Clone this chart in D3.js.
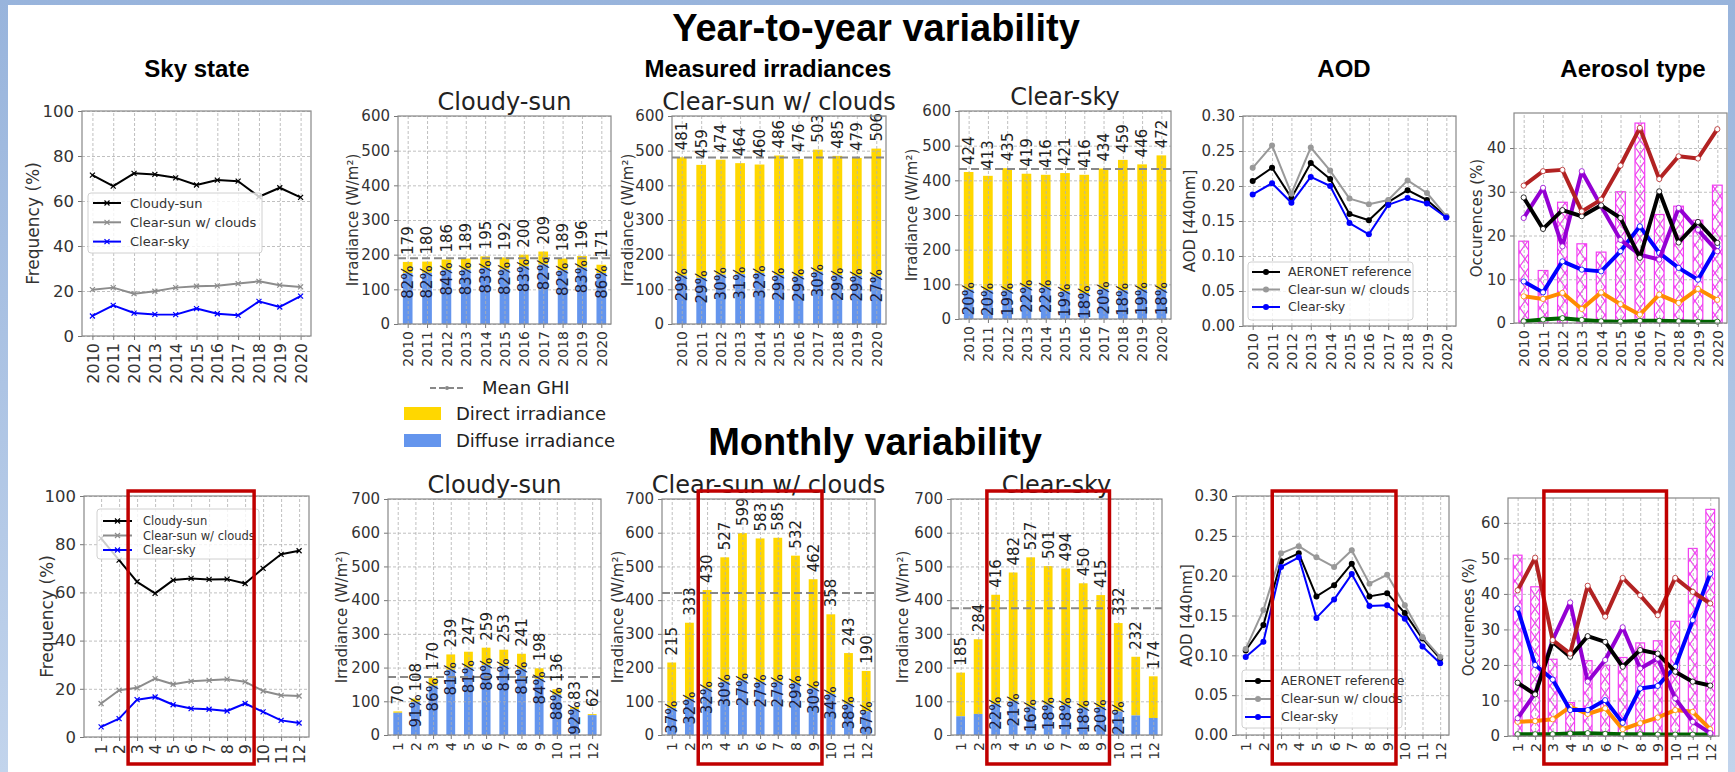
<!DOCTYPE html>
<html>
<head>
<meta charset="utf-8">
<script src="https://cdn.jsdelivr.net/npm/d3@7"></script>
<style>
  body { margin: 0; background: #fff; }
  svg { display: block; }
</style>
</head>
<body>
<div id="chart"></div>
<script>
// ---- categories
const years = [2010, 2011, 2012, 2013, 2014, 2015, 2016, 2017, 2018, 2019, 2020];
const months = [1, 2, 3, 4, 5, 6, 7, 8, 9, 10, 11, 12];

// ---- sky state frequency (%)
const skyYearCloudy   = [71.5, 66.6, 72.3, 71.8, 70.3, 67.1, 69.3, 68.8, 61.9, 65.9, 61.6];
const skyYearClearSun = [20.6, 21.5, 18.8, 19.9, 21.5, 22.1, 22.3, 23.3, 24.3, 22.6, 21.8];
const skyYearClearSky = [8.9, 13.6, 10.2, 9.6, 9.5, 12.2, 9.9, 9.2, 15.4, 12.9, 17.7];
const skyMonthCloudy   = [82.4, 73.4, 64.4, 59.6, 65.1, 65.8, 65.4, 65.5, 63.7, 70.0, 75.8, 77.3];
const skyMonthClearSun = [13.9, 19.4, 20.4, 24.2, 21.9, 23.1, 23.5, 24.0, 22.9, 19.1, 17.3, 17.0];
const skyMonthClearSky = [4.2, 7.6, 15.5, 16.6, 13.4, 11.8, 11.5, 10.8, 13.9, 10.4, 6.9, 5.8];

// ---- measured irradiances: total GHI (W/m²) and diffuse share (%)
const cloudyYearTotal   = [179, 180, 186, 189, 195, 192, 200, 209, 189, 196, 171];
const cloudyYearPct     = [82, 82, 84, 83, 83, 82, 83, 82, 82, 83, 86];
const clearSunYearTotal = [481, 459, 474, 464, 460, 486, 476, 503, 485, 479, 506];
const clearSunYearPct   = [29, 29, 30, 31, 32, 29, 29, 30, 29, 29, 27];
const clearSkyYearTotal = [424, 413, 435, 419, 416, 421, 416, 434, 459, 446, 472];
const clearSkyYearPct   = [20, 20, 19, 22, 22, 19, 18, 20, 18, 19, 18];
const yearMeanGHI = [190, 480, 433];   // cloudy-sun, clear-sun w/ clouds, clear-sky

const cloudyMonthTotal   = [70, 108, 170, 239, 247, 259, 253, 241, 198, 136, 83, 62];
const cloudyMonthPct     = [94, 91, 86, 81, 81, 80, 81, 81, 84, 88, 92, 95];
const cloudyMonthShowPct = [0, 1, 1, 1, 1, 1, 1, 1, 1, 1, 1, 0];
const clearSunMonthTotal = [215, 333, 430, 527, 599, 583, 585, 532, 462, 358, 243, 190];
const clearSunMonthPct   = [37, 32, 32, 30, 27, 27, 27, 29, 30, 34, 38, 37];
const clearSunMonthShowPct = [1, 1, 1, 1, 1, 1, 1, 1, 1, 1, 1, 1];
const clearSkyMonthTotal = [185, 284, 416, 482, 527, 501, 494, 450, 415, 332, 232, 174];
const clearSkyMonthPct   = [30, 22, 22, 21, 16, 18, 18, 18, 20, 21, 25, 29];
const clearSkyMonthShowPct = [0, 0, 1, 1, 1, 1, 1, 1, 1, 1, 0, 0];
const monthMeanGHI = [172, 421, 376];

// ---- AOD at 440 nm
const aodYearRef      = [0.207, 0.226, 0.183, 0.233, 0.210, 0.160, 0.151, 0.177, 0.194, 0.180, 0.156];
const aodYearClearSun = [0.226, 0.258, 0.189, 0.255, 0.222, 0.182, 0.174, 0.180, 0.208, 0.190, 0.157];
const aodYearClearSky = [0.188, 0.204, 0.176, 0.213, 0.200, 0.147, 0.131, 0.173, 0.183, 0.175, 0.155];
const aodMonthRef      = [0.106, 0.138, 0.218, 0.228, 0.174, 0.188, 0.215, 0.174, 0.178, 0.153, 0.121, 0.096];
const aodMonthClearSun = [0.108, 0.157, 0.228, 0.237, 0.223, 0.211, 0.232, 0.190, 0.201, 0.163, 0.123, 0.098];
const aodMonthClearSky = [0.098, 0.117, 0.211, 0.223, 0.147, 0.170, 0.202, 0.162, 0.163, 0.146, 0.111, 0.090];

// ---- aerosol type occurrences (%)
const aerYearBars   = [18.7, 12.0, 27.6, 18.1, 16.2, 30.0, 45.7, 24.8, 26.7, 23.5, 31.5];
const aerYearBrown  = [31.4, 34.7, 35.0, 25.5, 28.2, 36.0, 44.6, 32.9, 38.1, 37.6, 44.3];
const aerYearPurple = [24.0, 30.9, 17.5, 34.7, 26.7, 19.0, 15.6, 14.5, 26.3, 21.3, 16.4];
const aerYearBlack  = [28.7, 21.5, 25.8, 24.4, 26.9, 24.0, 14.9, 30.1, 18.4, 23.1, 18.3];
const aerYearBlue   = [9.5, 7.0, 14.1, 12.2, 11.8, 16.4, 22.1, 16.0, 12.6, 9.9, 17.5];
const aerYearOrange = [6.1, 5.5, 6.9, 3.2, 7.0, 4.3, 1.9, 6.5, 4.6, 7.8, 5.3];
const aerYearGreen  = [0.4, 0.8, 1.1, 0.7, 0.4, 0.3, 0.5, 0.5, 0.4, 0.3, 0.3];
const aerMonthBars   = [50.9, 42.0, 21.6, 9.4, 21.2, 19.9, 22.1, 26.2, 26.8, 32.3, 52.8, 63.8];
const aerMonthBrown  = [41.0, 50.2, 27.0, 23.2, 42.3, 33.6, 44.5, 39.6, 34.0, 44.5, 40.6, 37.3];
const aerMonthPurple = [5.0, 12.0, 27.0, 37.6, 15.3, 21.4, 30.6, 19.0, 21.8, 10.6, 4.0, 0.8];
const aerMonthBlack  = [15.0, 11.7, 26.5, 22.3, 28.1, 26.5, 19.5, 24.2, 23.2, 18.1, 15.3, 14.2];
const aerMonthBlue   = [35.9, 20.0, 15.9, 7.3, 7.3, 10.1, 3.7, 13.4, 14.1, 19.5, 32.6, 45.7];
const aerMonthOrange = [4.0, 4.2, 4.7, 8.2, 6.2, 7.8, 1.9, 3.6, 5.2, 7.3, 6.8, 1.9];
const aerMonthGreen  = [0.5, 0.5, 0.5, 0.7, 0.8, 0.6, 0.5, 0.5, 0.4, 0.4, 0.4, 0.4];

const skyNames = ["Cloudy-sun", "Clear-sun w/ clouds", "Clear-sky"];
const aodNames = ["AERONET reference", "Clear-sun w/ clouds", "Clear-sky"];

// ---------------------------------------------------------------
const W = 1735, H = 772;
const FONT = "DejaVu Sans";
const TITLE_FONT = "Liberation Sans";

const svg = d3.select("#chart").append("svg")
    .attr("width", W)
    .attr("height", H)
    .attr("font-family", FONT);

const defs = svg.append("defs");
const sky = defs.append("linearGradient").attr("id", "sky")
    .attr("x1", 0).attr("y1", 0).attr("x2", 0).attr("y2", 1);
sky.append("stop").attr("offset", "0%").attr("stop-color", "#98b4dc");
sky.append("stop").attr("offset", "100%").attr("stop-color", "#c2d4ec");

const hatch = defs.append("pattern").attr("id", "hatch")
    .attr("patternUnits", "userSpaceOnUse").attr("width", 10).attr("height", 14);
hatch.append("rect").attr("width", 10).attr("height", 14).attr("fill", "#fff");
hatch.append("path").attr("d", "M0,0L10,14M10,0L0,14")
    .attr("stroke", "#f23cf2").attr("stroke-width", 1.1);

svg.append("rect").attr("width", W).attr("height", H).attr("fill", "url(#sky)");
svg.append("rect").attr("x", 8).attr("y", 5).attr("width", 1720).attr("height", H - 5).attr("fill", "#fff");

// big headings
function heading(text, x, y, size) {
  svg.append("text").attr("x", x).attr("y", y)
      .attr("text-anchor", "middle")
      .attr("font-family", TITLE_FONT).attr("font-weight", "bold")
      .attr("font-size", size).attr("fill", "#000")
      .text(text);
}
heading("Year-to-year variability", 876, 41, 38);
heading("Monthly variability", 875, 455, 38);
heading("Sky state", 197, 77, 24);
heading("Measured irradiances", 768, 77, 24);
heading("AOD", 1344, 77, 24);
heading("Aerosol type", 1633, 77, 24);

// ---------------------------------------------------------------
// one matplotlib-like axes box
function makeAxes(box, cats, xDomain, yDomain, yTicks, yFmt, yLabel, yLabelX, fs) {
  const x = d3.scaleLinear().domain(xDomain).range([box.left, box.right]);
  const y = d3.scaleLinear().domain(yDomain).range([box.bottom, box.top]);
  const g = svg.append("g");
  const below = g.append("g");
  const grid = g.append("g");
  const above = g.append("g");

  grid.append("g")
      .attr("transform", `translate(${box.left},0)`)
      .call(d3.axisLeft(y).tickValues(yTicks).tickSize(-(box.right - box.left)).tickFormat(""))
      .call(a => a.select(".domain").remove())
      .selectAll("line")
        .attr("stroke", "#b0b0b0").attr("stroke-width", 0.8).attr("stroke-dasharray", "3,2");
  grid.append("g")
      .attr("transform", `translate(0,${box.bottom})`)
      .call(d3.axisBottom(x).tickValues(cats).tickSize(-(box.bottom - box.top)).tickFormat(""))
      .call(a => a.select(".domain").remove())
      .selectAll("line")
        .attr("stroke", "#b0b0b0").attr("stroke-width", 0.8).attr("stroke-dasharray", "3,2");

  const ay = g.append("g")
      .attr("transform", `translate(${box.left},0)`)
      .call(d3.axisLeft(y).tickValues(yTicks).tickFormat(yFmt).tickSize(4).tickPadding(4))
      .attr("font-family", FONT).attr("font-size", fs.y);
  ay.select(".domain").remove();
  ay.selectAll("text").attr("fill", "#333");
  ay.selectAll("line").attr("stroke", "#777");

  const ax = g.append("g")
      .attr("transform", `translate(0,${box.bottom})`)
      .call(d3.axisBottom(x).tickValues(cats).tickFormat(d3.format("d")).tickSize(4))
      .attr("font-family", FONT).attr("font-size", fs.x);
  ax.select(".domain").remove();
  ax.selectAll("line").attr("stroke", "#777");
  ax.selectAll("text")
      .attr("fill", "#333")
      .attr("transform", "rotate(-90)")
      .attr("text-anchor", "end")
      .attr("x", -7).attr("y", 0).attr("dy", "0.35em");

  g.append("text")
      .attr("transform", `translate(${yLabelX},${(box.top + box.bottom) / 2}) rotate(-90)`)
      .attr("text-anchor", "middle").attr("dy", "0.35em")
      .attr("font-size", fs.label).attr("fill", "#333")
      .text(yLabel);

  g.append("rect")
      .attr("x", box.left).attr("y", box.top)
      .attr("width", box.right - box.left).attr("height", box.bottom - box.top)
      .attr("fill", "none").attr("stroke", "#888").attr("stroke-width", 1.2);

  return { x, y, below, above, box };
}

function marker(sel, kind, color) {
  if (kind === "x") {
    sel.append("path").attr("d", "M-2.5,-2.5L2.5,2.5M-2.5,2.5L2.5,-2.5")
        .attr("stroke", color).attr("stroke-width", 1.2);
  } else if (kind === "dot") {
    sel.append("circle").attr("r", 3).attr("fill", color);
  } else if (kind === "ring") {
    sel.append("circle").attr("r", 2.6).attr("fill", "#fff").attr("stroke", color).attr("stroke-width", 0.8);
  }
}

function drawLine(ax, cats, values, color, width, kind) {
  const line = d3.line().x((d, i) => ax.x(cats[i])).y(d => ax.y(d));
  ax.above.append("path").datum(values)
      .attr("d", line)
      .attr("fill", "none").attr("stroke", color)
      .attr("stroke-width", width).attr("stroke-linejoin", "round");
  ax.above.append("g").selectAll("g").data(values).join("g")
      .attr("transform", (d, i) => `translate(${ax.x(cats[i])},${ax.y(d)})`)
      .each(function() { marker(d3.select(this), kind, color); });
}

function legend(layer, spec, items) {
  layer.append("rect")
      .attr("x", spec.x).attr("y", spec.y).attr("width", spec.w).attr("height", spec.h).attr("rx", 3)
      .attr("fill", "#fff").attr("fill-opacity", 0.8).attr("stroke", "#d0d0d0");
  items.forEach((it, i) => {
    const cy = spec.row0 + i * spec.step;
    layer.append("line")
        .attr("x1", spec.lx1).attr("x2", spec.lx2).attr("y1", cy).attr("y2", cy)
        .attr("stroke", it.color).attr("stroke-width", 2);
    marker(layer.append("g").attr("transform", `translate(${(spec.lx1 + spec.lx2) / 2},${cy})`), it.kind, it.color);
    layer.append("text")
        .attr("x", spec.tx).attr("y", cy).attr("dy", "0.35em")
        .attr("font-size", spec.fs).attr("fill", "#333")
        .text(it.label);
  });
}

const skyFs = { y: 16.5, x: 16, label: 17 };
const barFs = { y: 15, x: 14, label: 15 };
const aodFs = { y: 15, x: 14.5, label: 15 };

// ---------------------------------------------------------------
function skyPanel(box, cats, xDomain, series, yLabelX, leg) {
  const ax = makeAxes(box, cats, xDomain, [0, 100], d3.range(0, 101, 20), d3.format("d"), "Frequency (%)", yLabelX, skyFs);
  const colors = ["#000", "#8c8c8c", "#0000ff"];
  series.forEach((s, k) => drawLine(ax, cats, s, colors[k], 2, "x"));
  legend(ax.above, leg, series.map((s, k) => ({ label: skyNames[k], color: colors[k], kind: "x" })));
  return ax;
}

function irrPanel(box, cats, xDomain, yMax, totals, pcts, showPct, mean, title, titleY, yLabelX) {
  const ax = makeAxes(box, cats, xDomain, [0, yMax], d3.range(0, yMax + 1, 100), d3.format("d"), "Irradiance (W/m²)", yLabelX, barFs);
  const bw = ax.x(cats[0] + 0.25) - ax.x(cats[0] - 0.25);
  const rows = cats.map((c, i) => ({ c, total: totals[i], diffuse: totals[i] * pcts[i] / 100, pct: pcts[i], show: showPct[i] }));

  ax.below.selectAll(".dir").data(rows).join("rect")
      .attr("x", d => ax.x(d.c) - bw / 2).attr("width", bw)
      .attr("y", d => ax.y(d.total)).attr("height", d => ax.y(d.diffuse) - ax.y(d.total))
      .attr("fill", "#ffd700");
  ax.below.selectAll(".dif").data(rows).join("rect")
      .attr("x", d => ax.x(d.c) - bw / 2).attr("width", bw)
      .attr("y", d => ax.y(d.diffuse)).attr("height", d => ax.y(0) - ax.y(d.diffuse))
      .attr("fill", "#6495ed");

  ax.above.append("line")
      .attr("x1", box.left).attr("x2", box.right)
      .attr("y1", ax.y(mean)).attr("y2", ax.y(mean))
      .attr("stroke", "#888").attr("stroke-width", 2).attr("stroke-dasharray", "8,4");

  ax.above.selectAll(".tot").data(rows).join("text")
      .attr("transform", d => `translate(${ax.x(d.c)},${ax.y(d.total) - 7}) rotate(-90)`)
      .attr("dy", "0.36em").attr("font-size", 15).attr("fill", "#222")
      .text(d => d.total);
  ax.above.selectAll(".pct").data(rows.filter(d => d.show)).join("text")
      .attr("transform", d => `translate(${ax.x(d.c)},${Math.min(ax.y(d.diffuse) + 9, ax.y(0) - 17)}) rotate(-90)`)
      .attr("text-anchor", "middle")
      .attr("dy", "0.36em").attr("font-size", 15).attr("fill", "#1c1c3a")
      .text(d => `${d.pct}%`);

  svg.append("text")
      .attr("x", (box.left + box.right) / 2).attr("y", titleY)
      .attr("text-anchor", "middle").attr("font-size", 24).attr("fill", "#222")
      .text(title);
  return ax;
}

function aodPanel(box, cats, xDomain, series, yLabelX, leg) {
  const ax = makeAxes(box, cats, xDomain, [0, 0.3], d3.range(0, 0.301, 0.05), d3.format(".2f"), "AOD [440nm]", yLabelX, aodFs);
  const colors = ["#000", "#999", "#0000ff"];
  series.forEach((s, k) => drawLine(ax, cats, s, colors[k], 2, "dot"));
  legend(ax.above, leg, series.map((s, k) => ({ label: aodNames[k], color: colors[k], kind: "dot" })));
  return ax;
}

function aerosolPanel(box, cats, xDomain, yMax, yTicks, bars, lines, yLabelX) {
  const ax = makeAxes(box, cats, xDomain, [0, yMax], yTicks, d3.format("d"), "Occurences (%)", yLabelX, aodFs);
  const bw = ax.x(cats[0] + 0.25) - ax.x(cats[0] - 0.25);
  ax.below.selectAll("rect").data(bars).join("rect")
      .attr("x", (d, i) => ax.x(cats[i]) - bw / 2).attr("width", bw)
      .attr("y", d => ax.y(d)).attr("height", d => ax.y(0) - ax.y(d))
      .attr("fill", "url(#hatch)").attr("stroke", "#f23cf2").attr("stroke-width", 1.2);
  lines.forEach(l => drawLine(ax, cats, l.values, l.color, 4, "ring"));
  return ax;
}

function redBox(ax, from, to) {
  svg.append("rect")
      .attr("x", ax.x(from)).attr("y", 491)
      .attr("width", ax.x(to) - ax.x(from)).attr("height", 273)
      .attr("fill", "none").attr("stroke", "#c00000").attr("stroke-width", 3.5);
}

// ---------------------------------------------------------------
const yDom = [2009.5, 2020.5];
const mDom = [0.45, 12.5];

// top row: years
skyPanel({ left: 82, right: 311, top: 111, bottom: 336 }, years, yDom,
  [skyYearCloudy, skyYearClearSun, skyYearClearSky], 33,
  { x: 88, y: 193, w: 174, h: 60, row0: 203, step: 19.3, lx1: 93, lx2: 121, tx: 130, fs: 13 });

irrPanel({ left: 398, right: 611, top: 116, bottom: 324 }, years, yDom, 600,
  cloudyYearTotal, cloudyYearPct, years.map(() => 1), yearMeanGHI[0], "Cloudy-sun", 110, 353);
irrPanel({ left: 672, right: 886, top: 116, bottom: 324 }, years, yDom, 600,
  clearSunYearTotal, clearSunYearPct, years.map(() => 1), yearMeanGHI[1], "Clear-sun w/ clouds", 110, 628);
irrPanel({ left: 959, right: 1171, top: 111, bottom: 319 }, years, yDom, 600,
  clearSkyYearTotal, clearSkyYearPct, years.map(() => 1), yearMeanGHI[2], "Clear-sky", 105, 912);

aodPanel({ left: 1243, right: 1456, top: 116, bottom: 326 }, years, yDom,
  [aodYearRef, aodYearClearSun, aodYearClearSky], 1190,
  { x: 1248, y: 262, w: 165, h: 58, row0: 272, step: 17.5, lx1: 1252, lx2: 1280, tx: 1288, fs: 12.5 });

aerosolPanel({ left: 1514, right: 1727, top: 113, bottom: 323 }, years, yDom, 48, [0, 10, 20, 30, 40],
  aerYearBars, [
    { values: aerYearGreen, color: "#006400" },
    { values: aerYearOrange, color: "#ff8c00" },
    { values: aerYearBlue, color: "#0000ff" },
    { values: aerYearPurple, color: "#9400d3" },
    { values: aerYearBlack, color: "#000" },
    { values: aerYearBrown, color: "#b22222" }
  ], 1477);

// legend of the irradiance bars
const irrLeg = svg.append("g").attr("font-size", 18).attr("fill", "#222");
irrLeg.append("line").attr("x1", 430).attr("x2", 464).attr("y1", 388).attr("y2", 388)
    .attr("stroke", "#888").attr("stroke-width", 2).attr("stroke-dasharray", "6,3");
irrLeg.append("circle").attr("cx", 447).attr("cy", 388).attr("r", 2).attr("fill", "#888");
irrLeg.append("text").attr("x", 482).attr("y", 394).text("Mean GHI");
irrLeg.append("rect").attr("x", 404).attr("y", 407).attr("width", 37).attr("height", 13).attr("fill", "#ffd700");
irrLeg.append("text").attr("x", 456).attr("y", 420).text("Direct irradiance");
irrLeg.append("rect").attr("x", 404).attr("y", 434).attr("width", 37).attr("height", 13).attr("fill", "#6495ed");
irrLeg.append("text").attr("x", 456).attr("y", 447).text("Diffuse irradiance");

// bottom row: months
const p7 = skyPanel({ left: 84, right: 309, top: 496, bottom: 737 }, months, [0.05, 12.55],
  [skyMonthCloudy, skyMonthClearSun, skyMonthClearSky], 47,
  { x: 97, y: 509, w: 162, h: 50, row0: 521, step: 14.5, lx1: 103, lx2: 132, tx: 143, fs: 11.5 });

irrPanel({ left: 388, right: 601, top: 499, bottom: 735 }, months, mDom, 700,
  cloudyMonthTotal, cloudyMonthPct, cloudyMonthShowPct, monthMeanGHI[0], "Cloudy-sun", 493, 342);
const p9 = irrPanel({ left: 662, right: 875, top: 499, bottom: 735 }, months, mDom, 700,
  clearSunMonthTotal, clearSunMonthPct, clearSunMonthShowPct, monthMeanGHI[1], "Clear-sun w/ clouds", 493, 618);
const p10 = irrPanel({ left: 951, right: 1162, top: 499, bottom: 735 }, months, mDom, 700,
  clearSkyMonthTotal, clearSkyMonthPct, clearSkyMonthShowPct, monthMeanGHI[2], "Clear-sky", 493, 903);

const p11 = aodPanel({ left: 1236, right: 1449, top: 496, bottom: 735 }, months, mDom,
  [aodMonthRef, aodMonthClearSun, aodMonthClearSky], 1187,
  { x: 1242, y: 670, w: 160, h: 58, row0: 681, step: 18, lx1: 1245, lx2: 1271, tx: 1281, fs: 12.5 });

const p12 = aerosolPanel({ left: 1508, right: 1719, top: 498, bottom: 736 }, months, mDom, 67, d3.range(0, 61, 10),
  aerMonthBars, [
    { values: aerMonthGreen, color: "#006400" },
    { values: aerMonthOrange, color: "#ff8c00" },
    { values: aerMonthBlue, color: "#0000ff" },
    { values: aerMonthPurple, color: "#9400d3" },
    { values: aerMonthBlack, color: "#000" },
    { values: aerMonthBrown, color: "#b22222" }
  ], 1469);

// highlighted months March–September
[p7, p9, p10, p11, p12].forEach(ax => redBox(ax, 2.5, 9.5));
</script>
</body>
</html>
